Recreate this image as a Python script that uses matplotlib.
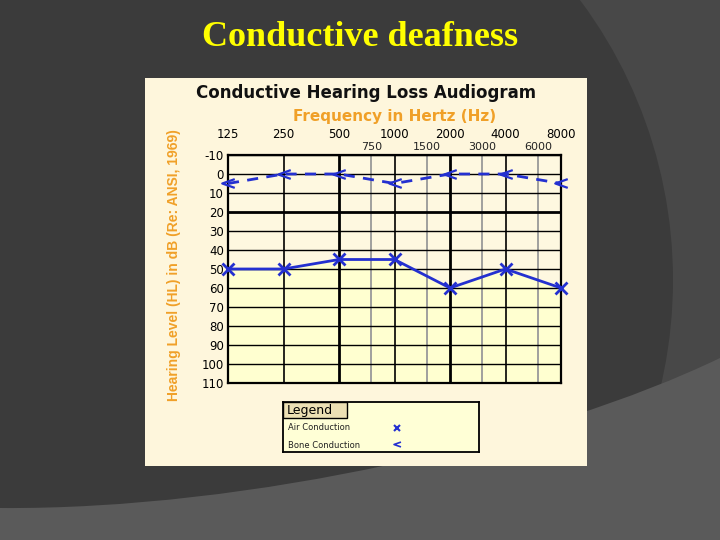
import numpy as np
import matplotlib
matplotlib.use("Agg")
import matplotlib.pyplot as plt
from matplotlib.patches import Rectangle, Ellipse, PathPatch
from matplotlib.path import Path

# audiogram data
freqs = [125, 250, 500, 1000, 2000, 4000, 8000]
air_db = [50, 50, 45, 45, 60, 50, 60]
bone_db = [5, 0, 0, 5, 0, 0, 5]
mid_freqs = [750, 1500, 3000, 6000]
db_ticks = [-10, 0, 10, 20, 30, 40, 50, 60, 70, 80, 90, 100, 110]

W, H = 720, 540
BLUE = "#2430d0"
ORANGE = "#f0a028"


def fx(x):
    return x / W


def fy(y):
    return 1 - y / H


fig = plt.figure(figsize=(7.2, 5.4), dpi=100)
fig.patch.set_facecolor("#3b3b3b")

# slide background decoration
fig.patches.append(Rectangle((0, 0), 1, 1, transform=fig.transFigure,
                             facecolor="#484848", edgecolor="none", zorder=0))
fig.patches.append(Ellipse((fx(205), fy(280)), 2 * 468 / W, 2 * 468 / H,
                           transform=fig.transFigure, facecolor="#3b3b3b",
                           edgecolor="none", zorder=0))
bottom = Path([(fx(0), fy(508)), (fx(250), fy(510)), (fx(550), fy(440)), (fx(720), fy(358)),
               (fx(720), fy(540)), (fx(0), fy(540)), (fx(0), fy(508))],
              [Path.MOVETO, Path.CURVE4, Path.CURVE4, Path.CURVE4,
               Path.LINETO, Path.LINETO, Path.CLOSEPOLY])
fig.patches.append(PathPatch(bottom, transform=fig.transFigure, facecolor="#5a5a5a",
                             edgecolor="none", zorder=0))

# cream panel
fig.patches.append(Rectangle((fx(145), fy(466)), (587 - 145) / W, (466 - 78) / H,
                             transform=fig.transFigure, facecolor="#fef6dc",
                             edgecolor="none", zorder=1))

fig.text(0.5, fy(38), "Conductive deafness", color="#ffff00", ha="center", va="center",
         fontsize=26, fontweight="bold", family="Liberation Serif")
fig.text(fx(366), fy(93), "Conductive Hearing Loss Audiogram", ha="center", va="center",
         fontsize=12, fontweight="bold", color="#111111")
fig.text(fx(395), fy(116), "Frequency in Hertz (Hz)", ha="center", va="center",
         fontsize=11, fontweight="bold", color=ORANGE)
fig.text(fx(174), fy(265), "Hearing Level (HL) in dB (Re: ANSI, 1969)", rotation=90,
         ha="center", va="center", fontsize=10, fontweight="bold", color=ORANGE,
         family="Liberation Sans")

ax = fig.add_axes([fx(228), fy(383), (561 - 228) / W, (383 - 155) / H])
ax.set_facecolor("#fef8e0")
ax.set_xscale("log", base=2)
ax.set_xlim(125, 8000)
ax.set_ylim(110, -10)
ax.set_zorder(2)

# yellow fill below air conduction
ax.fill_between(freqs, air_db, 110, color="#ffffd0", zorder=0, linewidth=0)

for f in mid_freqs:
    ax.axvline(f, color="#999999", lw=1.3, zorder=1)
for f in freqs:
    ax.axvline(f, color="black", lw=2.0 if f in (500, 2000) else 1.2, zorder=1)
for d in db_ticks:
    ax.axhline(d, color="black", lw=2.0 if d == 20 else 1.0, zorder=1)

for s in ax.spines.values():
    s.set_linewidth(1.6)

ax.set_xticks([])
ax.minorticks_off()
ax.set_yticks(db_ticks)
ax.set_yticklabels([str(d) for d in db_ticks], fontsize=8.5)
ax.tick_params(axis="y", length=0, pad=3)

for f in freqs:
    ax.text(f, 1.088, str(f), transform=ax.get_xaxis_transform(), ha="center",
            va="center", fontsize=8.5)
for f in mid_freqs:
    ax.text(f, 1.035, str(f), transform=ax.get_xaxis_transform(), ha="center",
            va="center", fontsize=8, color="#222222")

caret = Path([(1, 0.7), (-1, 0), (1, -0.7)], [Path.MOVETO, Path.LINETO, Path.LINETO])
ax.plot(freqs, air_db, color=BLUE, lw=2, marker="x", ms=8, mew=2, zorder=3, clip_on=False)
ax.plot(freqs, bone_db, color=BLUE, lw=2, ls=(0, (4, 3)), marker=caret, ms=9, mew=1.6,
        mfc="none", zorder=3, clip_on=False)

# legend box
leg = fig.add_axes([fx(283), fy(452), (479 - 283) / W, (452 - 402) / H])
leg.set_zorder(2)
leg.set_facecolor("#ffffd6")
leg.set_xticks([])
leg.set_yticks([])
for s in leg.spines.values():
    s.set_linewidth(1.3)
leg.set_xlim(0, 196)
leg.set_ylim(50, 0)
leg.add_patch(Rectangle((0, 0), 64, 16, facecolor="#ece0b4", edgecolor="black", lw=1))
leg.text(4, 8.5, "Legend", fontsize=9, va="center", ha="left")
leg.text(5, 26, "Air Conduction", fontsize=6, va="center", ha="left", color="#222222")
leg.text(5, 43, "Bone Conduction", fontsize=6, va="center", ha="left", color="#222222")
leg.plot([114], [26], marker="x", color=BLUE, ms=5, mew=1.5, ls="none")
leg.plot([114], [42], marker=caret, color=BLUE, ms=5, mew=1.2, mfc="none", ls="none")

fig.savefig("out.png", dpi=100, facecolor=fig.get_facecolor())
